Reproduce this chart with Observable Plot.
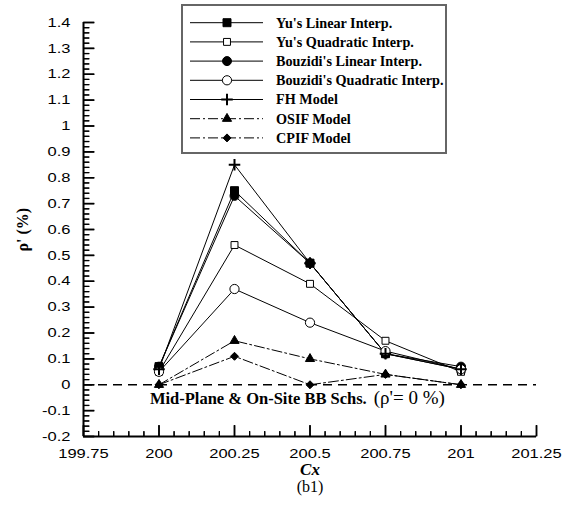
<!DOCTYPE html>
<html>
<head>
<meta charset="utf-8">
<script src="https://cdn.jsdelivr.net/npm/d3@7"></script>
<script src="https://cdn.jsdelivr.net/npm/@observablehq/plot@0.6"></script>
<style>
  body { margin: 0; background: #fff; }
  svg { display: block; }
</style>
</head>
<body>
<div id="chart"></div>
<script>
// Density fluctuation ρ' (%) along Cx for each boundary scheme
const cx = [200, 200.25, 200.5, 200.75, 201];
const yuLinear = [0.07, 0.75, 0.47, 0.12, 0.06];
const yuQuadratic = [0.05, 0.54, 0.39, 0.17, 0.05];
const bouzidiLinear = [0.07, 0.73, 0.47, 0.12, 0.07];
const bouzidiQuadratic = [0.05, 0.37, 0.24, 0.13, 0.06];
const fhModel = [0.06, 0.85, 0.47, 0.12, 0.06];
const osifModel = [0, 0.17, 0.10, 0.04, 0];
const cpifModel = [0, 0.11, 0, 0.04, 0];

const seriesNames = [
  "Yu's Linear Interp.",
  "Yu's Quadratic Interp.",
  "Bouzidi's Linear Interp.",
  "Bouzidi's Quadratic Interp.",
  "FH Model",
  "OSIF Model",
  "CPIF Model"
];
const seriesValues = [yuLinear, yuQuadratic, bouzidiLinear, bouzidiQuadratic, fhModel, osifModel, cpifModel];

const xTicks = [199.75, 200, 200.25, 200.5, 200.75, 201, 201.25];
const yTicks = [-0.2, -0.1, 0, 0.1, 0.2, 0.3, 0.4, 0.5, 0.6, 0.7, 0.8, 0.9, 1, 1.1, 1.2, 1.3, 1.4];
const annotation = "Mid-Plane & On-Site BB Schs.";
const annotationNote = "(ρ'= 0 %)";

// Marker and line style for each series
const styles = [
  {symbol: "square", fill: "black", r: 4.5, dash: null},
  {symbol: "square", fill: "white", r: 3.9, dash: null},
  {symbol: "circle", fill: "black", r: 4.5, dash: null},
  {symbol: "circle", fill: "white", r: 4.6, dash: null},
  {symbol: "plus", fill: "none", r: 3.8, dash: null, sw: 2},
  {symbol: "triangle", fill: "black", r: 3.4, dash: "10,3,2,3"},
  {symbol: "diamond2", fill: "black", r: 3.6, dash: "10,3,2,3"}
];

const rows = seriesNames.flatMap((name, i) =>
  cx.map((x, j) => ({series: name, i, x, y: seriesValues[i][j]}))
);

const xDomain = [199.75, 201.25];
const yDomain = [-0.2, 1.4];
const minorX = d3.range(0, 31).map(k => +(199.75 + k * 0.05).toFixed(2)).filter(v => !xTicks.includes(v));
const minorY = d3.range(0, 81).map(k => +(-0.2 + k * 0.02).toFixed(2)).filter(v => !yTicks.includes(v));

const W = 571, H = 520, ML = 83, MR = 35, MT = 22, MB = 84;
const frameW = W - ML - MR, frameH = H - MT - MB;
// data units per pixel, so inward ticks get a fixed pixel length
const xPerPx = (xDomain[1] - xDomain[0]) / frameW;
const yPerPx = (yDomain[1] - yDomain[0]) / frameH;

const fmt = d => `${d}`;
const blank = () => "";
const serif = "'Liberation Serif', 'Times New Roman', serif";
const sans = "'Liberation Sans', Arial, sans-serif";

const tickLinksX = (vals, len, w) => Plot.link(vals, {
  x1: d => d, x2: d => d, y1: yDomain[0], y2: yDomain[0] + len * yPerPx,
  stroke: "black", strokeWidth: w
});
const tickLinksY = (vals, len, w) => Plot.link(vals, {
  y1: d => d, y2: d => d, x1: xDomain[0], x2: xDomain[0] + len * xPerPx,
  stroke: "black", strokeWidth: w
});
// axis ticks shifted by their own length so they point into the plot
const inwardX = (vals, len, w) => Plot.axisX({ticks: vals, tickSize: len, dy: -len,
  tickFormat: blank, label: null, strokeWidth: w, stroke: "black"});
const inwardY = (vals, len, w) => Plot.axisY({ticks: vals, tickSize: len, dx: len,
  tickFormat: blank, label: null, strokeWidth: w, stroke: "black"});

const marks = [
  Plot.ruleY([0], {stroke: "black", strokeWidth: 1.6, strokeDasharray: "9,6"}),
  ...styles.map((s, i) =>
    Plot.line(rows.filter(d => d.i === i), {
      x: "x", y: "y", stroke: "black", strokeWidth: 1,
      strokeDasharray: s.dash
    })
  ),
  ...styles.map((s, i) =>
    Plot.dot(rows.filter(d => d.i === i), {
      x: "x", y: "y", symbol: () => s.symbol, r: s.r,
      fill: s.fill,
      stroke: "black", strokeWidth: s.sw ?? 1
    })
  ),
  // axis lines
  Plot.ruleX([xDomain[0]], {stroke: "black", strokeWidth: 2}),
  Plot.ruleY([yDomain[0]], {stroke: "black", strokeWidth: 2}),
  // tick labels
  Plot.axisX({ticks: xTicks, tickSize: 0, tickPadding: 12, tickFormat: fmt, label: null,
    fontSize: 13, fontFamily: sans}),
  Plot.axisY({ticks: yTicks, tickSize: 0, tickPadding: 13, tickFormat: fmt, label: null,
    fontSize: 13, fontFamily: sans}),
  // annotation under the zero line
  Plot.text([annotation], {x: () => 199.97, y: () => 0, text: d => d, textAnchor: "start",
    dy: 14, fontSize: 16.5, fontWeight: "bold", fontFamily: serif}),
  // axis titles and panel tag
  Plot.text(["ρ' (%)"], {frameAnchor: "left", dx: -61, dy: 22, rotate: -90, text: d => d,
    fontSize: 16, fontWeight: "bold", fontFamily: serif}),
  Plot.text(["Cx"], {frameAnchor: "bottom", dy: 38, text: d => d,
    fontSize: 17, fontWeight: "bold", fontStyle: "italic", fontFamily: serif}),
  Plot.text(["(b1)"], {frameAnchor: "bottom", dy: 55, text: d => d,
    fontSize: 16, fontFamily: serif}),
  // inward major and minor ticks
  tickLinksX(xTicks, 11, 1.5),
  tickLinksX(minorX, 5, 1.2),
  tickLinksY(yTicks, 11, 1.5),
  tickLinksY(minorY, 6, 1.2),
  inwardX(xTicks, 11, 1.5),
  inwardX(minorX, 5, 1.2),
  inwardY(yTicks, 11, 1.5),
  inwardY(minorY, 6, 1.2)
];

const chart = Plot.plot({
  width: W,
  height: H,
  marginLeft: ML,
  marginRight: MR,
  marginTop: MT,
  marginBottom: MB,
  x: {domain: xDomain, axis: null},
  y: {domain: yDomain, axis: null},
  style: {background: "white", color: "black"},
  marks
});

const svg = d3.select(chart);

// Tick labels are set slightly wide
svg.selectAll('g[aria-label="x-axis tick label"] text, g[aria-label="y-axis tick label"] text')
  .each(function () {
    const t = this.getAttribute("transform") || "";
    this.setAttribute("transform", `${t} scale(1.27,1)`);
  });

// Regular-weight note after the bold annotation text
svg.selectAll("text").filter(function () { return this.textContent === annotation; })
  .each(function () {
    d3.select(this).append("tspan").attr("font-weight", "normal").attr("font-size", 19)
      .attr("dx", 7).text(annotationNote);
  });

// Legend box
const lg = svg.append("g").attr("font-family", serif).attr("text-anchor", "start");
lg.append("rect").attr("x", 182).attr("y", 5).attr("width", 264).attr("height", 148)
  .attr("fill", "white").attr("stroke", "#666").attr("stroke-width", 2);
const symbolMap = {
  square: d3.symbolSquare, circle: d3.symbolCircle, plus: d3.symbolPlus,
  triangle: d3.symbolTriangle, diamond2: d3.symbolDiamond2
};
seriesNames.forEach((name, i) => {
  const s = styles[i];
  const yRow = 22.7 + i * 19.2;
  const g = lg.append("g").attr("transform", `translate(0,${yRow})`);
  g.append("line").attr("x1", 190).attr("x2", 263).attr("y1", 0).attr("y2", 0)
    .attr("stroke", "black").attr("stroke-width", 1)
    .attr("stroke-dasharray", s.dash);
  if (s.symbol === "circle") {
    g.append("circle").attr("cx", 227).attr("cy", 0).attr("r", s.r)
      .attr("fill", s.fill).attr("stroke", "black");
  } else {
    g.append("path").attr("transform", "translate(227,0)")
      .attr("d", d3.symbol(symbolMap[s.symbol], Math.PI * s.r * s.r)())
      .attr("fill", s.fill).attr("stroke", "black").attr("stroke-width", s.sw ?? 1);
  }
  g.append("text").attr("x", 276).attr("y", 0).attr("dy", "0.35em")
    .attr("font-size", 14.2).attr("font-weight", "bold").text(name);
});

document.getElementById("chart").append(chart);
</script>
</body>
</html>
